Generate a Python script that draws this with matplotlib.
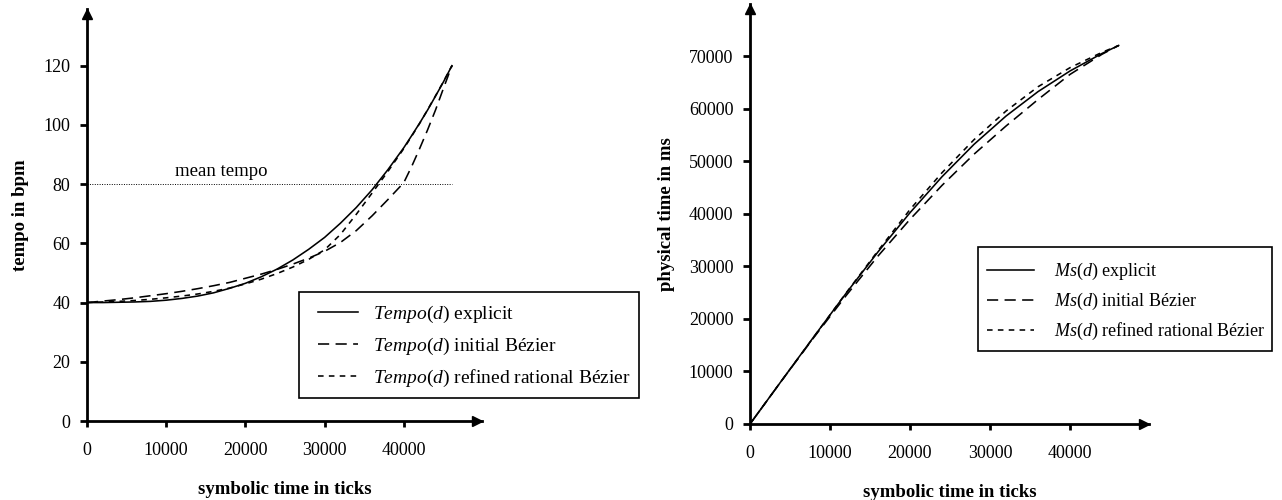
import matplotlib
matplotlib.use("Agg")
import matplotlib.pyplot as plt
from matplotlib.transforms import ScaledTranslation
from matplotlib.patches import Rectangle

plt.rcParams['font.family'] = ['Liberation Serif', 'DejaVu Serif']
plt.rcParams['mathtext.fontset'] = 'custom'
plt.rcParams['mathtext.rm'] = 'Liberation Serif'
plt.rcParams['mathtext.it'] = 'Liberation Serif:italic'
plt.rcParams['mathtext.bf'] = 'Liberation Serif:bold'

# ---------------- data ----------------
ticks = [0, 2000, 4000, 6000, 8000, 10000, 12000, 14000, 16000, 18000, 20000,
         22000, 24000, 26000, 28000, 30000, 32000, 34000, 36000, 38000, 40000,
         41000, 42000, 43000, 44000, 45000, 46080]
tempo_explicit = [40.0, 40.0, 40.1, 40.2, 40.4, 40.8, 41.4, 42.2, 43.3, 44.8, 46.5,
                  48.7, 51.3, 54.4, 58.0, 62.0, 66.8, 72.1, 78.1, 84.9, 92.3,
                  96.4, 100.6, 105.0, 109.7, 114.5, 120.0]
tempo_initial = [40.0, 40.5, 41.0, 41.6, 42.3, 43.0, 43.8, 44.7, 45.7, 46.8, 48.2,
                 49.6, 51.2, 53.0, 55.0, 57.3, 60.3, 64.3, 69.3, 74.8, 80.5,
                 86.0, 92.0, 98.3, 105.0, 112.3, 120.0]
tempo_refined = [40.0, 40.2, 40.4, 40.7, 41.1, 41.6, 42.2, 42.9, 43.8, 44.9, 46.3,
                 47.9, 49.8, 52.0, 54.6, 57.8, 63.0, 69.8, 77.0, 84.3, 92.0,
                 96.2, 100.5, 105.1, 109.8, 114.6, 120.0]
mean_tempo = 80

ms_ticks = [0, 4000, 8000, 12000, 16000, 20000, 24000, 28000, 32000, 36000,
            40000, 44000, 46080]
ms_explicit = [0, 8346, 16643, 24843, 32742, 40195, 47036, 53196, 58575, 63221,
               67151, 70485, 72000]
ms_initial = [0, 8330, 16500, 24400, 31950, 38930, 45390, 51320, 56680, 61720,
              66500, 70330, 72000]
ms_refined = [0, 8340, 16600, 24900, 32950, 40800, 47800, 54080, 59530, 64150,
              67780, 70700, 72000]

x_tick_vals = [0, 10000, 20000, 30000, 40000]
tempo_tick_vals = [0, 20, 40, 60, 80, 100, 120]
ms_tick_vals = [0, 10000, 20000, 30000, 40000, 50000, 60000, 70000]

W, H = 1282, 500
fig = plt.figure(figsize=(W / 100, H / 100), dpi=100)


def px_axes(x0, x1, ytop, ybot):
    return fig.add_axes([x0 / W, 1 - ybot / H, (x1 - x0) / W, (ybot - ytop) / H])


LW = 1.15
long_dash = (0, (7.0, 4.0))
short_dash = (0, (3.5, 3.3))
TFS = 13      # tick labels
LFS = 13.5    # axis labels


def style_axes(ax):
    for s in ('top', 'right'):
        ax.spines[s].set_visible(False)
    for s in ('left', 'bottom'):
        ax.spines[s].set_linewidth(2.0)
    ax.tick_params(axis='y', direction='out', length=5, width=2.0, pad=7, labelsize=TFS)
    ax.tick_params(axis='x', direction='out', length=4, width=2.0, pad=11, labelsize=TFS)
    ms = 7.5
    ax.plot([1], [0], marker='>', color='black', markersize=ms, clip_on=False,
            transform=ax.transAxes + ScaledTranslation(-ms / 2 / 72, 0, fig.dpi_scale_trans))
    ax.plot([0], [1], marker='^', color='black', markersize=ms, clip_on=False,
            transform=ax.transAxes + ScaledTranslation(0, -ms / 2 / 72, fig.dpi_scale_trans))


def frame_box(x0, y0, x1, y1):
    fig.patches.append(Rectangle((x0 / W, 1 - y1 / H), (x1 - x0) / W, (y1 - y0) / H,
                                 transform=fig.transFigure, fill=False,
                                 edgecolor='black', linewidth=1.2, zorder=5))


# ---------------- left chart ----------------
ax1 = px_axes(87, 482, 9, 421)
ax1.set_xlim(0, (482 - 87) / 79.2 * 10000)
ax1.set_ylim(0, (421 - 9) / 2.961)
style_axes(ax1)
ax1.plot(ticks, tempo_explicit, color='black', lw=LW, label=r'$Tempo$($d$) explicit')
ax1.plot(ticks, tempo_initial, color='black', lw=LW, linestyle=long_dash,
         label=r'$Tempo$($d$) initial Bézier')
ax1.plot(ticks, tempo_refined, color='black', lw=LW, linestyle=short_dash,
         label=r'$Tempo$($d$) refined rational Bézier')
ax1.plot([0, ticks[-1]], [mean_tempo, mean_tempo], color='black', lw=0.7,
         linestyle=(0, (1, 1.5)))
ax1.text(16920, 84.3, 'mean tempo', fontsize=13.5, ha='center', va='center')
ax1.set_xticks(x_tick_vals)
ax1.set_yticks(tempo_tick_vals)
ax1.set_xlabel('symbolic time in ticks', fontsize=LFS, fontweight='bold', labelpad=16)
ax1.set_ylabel('tempo in bpm', fontsize=LFS, fontweight='bold', labelpad=10)
frame_box(299, 291.7, 639, 397.7)
leg1 = ax1.legend(loc='upper left', bbox_to_anchor=(318 / W, 1 - 304 / H),
                  bbox_transform=fig.transFigure, borderaxespad=0, fontsize=14,
                  frameon=False, handlelength=2.06, handletextpad=0.77,
                  labelspacing=0.56, borderpad=0)

# ---------------- right chart ----------------
ax2 = px_axes(750, 1149, 4, 424)
ax2.set_xlim(0, (1149 - 750) / 80 * 10000)
ax2.set_ylim(0, (424 - 4) / 52.57 * 10000)
style_axes(ax2)
ax2.plot(ms_ticks, ms_explicit, color='black', lw=LW, label=r'$Ms$($d$) explicit')
ax2.plot(ms_ticks, ms_initial, color='black', lw=LW, linestyle=long_dash,
         label=r'$Ms$($d$) initial Bézier')
ax2.plot(ms_ticks, ms_refined, color='black', lw=LW, linestyle=short_dash,
         label=r'$Ms$($d$) refined rational Bézier')
ax2.set_xticks(x_tick_vals)
ax2.set_yticks(ms_tick_vals)
ax2.set_xlabel('symbolic time in ticks', fontsize=LFS, fontweight='bold', labelpad=16)
ax2.set_ylabel('physical time in ms', fontsize=LFS, fontweight='bold', labelpad=10)
frame_box(978, 247, 1272, 351)
leg2 = ax2.legend(loc='upper left', bbox_to_anchor=(987 / W, 1 - 261 / H),
                  bbox_transform=fig.transFigure, borderaxespad=0, fontsize=13,
                  frameon=False, handlelength=2.6, handletextpad=1.1,
                  labelspacing=0.49, borderpad=0)

fig.savefig('out.png', dpi=100)
